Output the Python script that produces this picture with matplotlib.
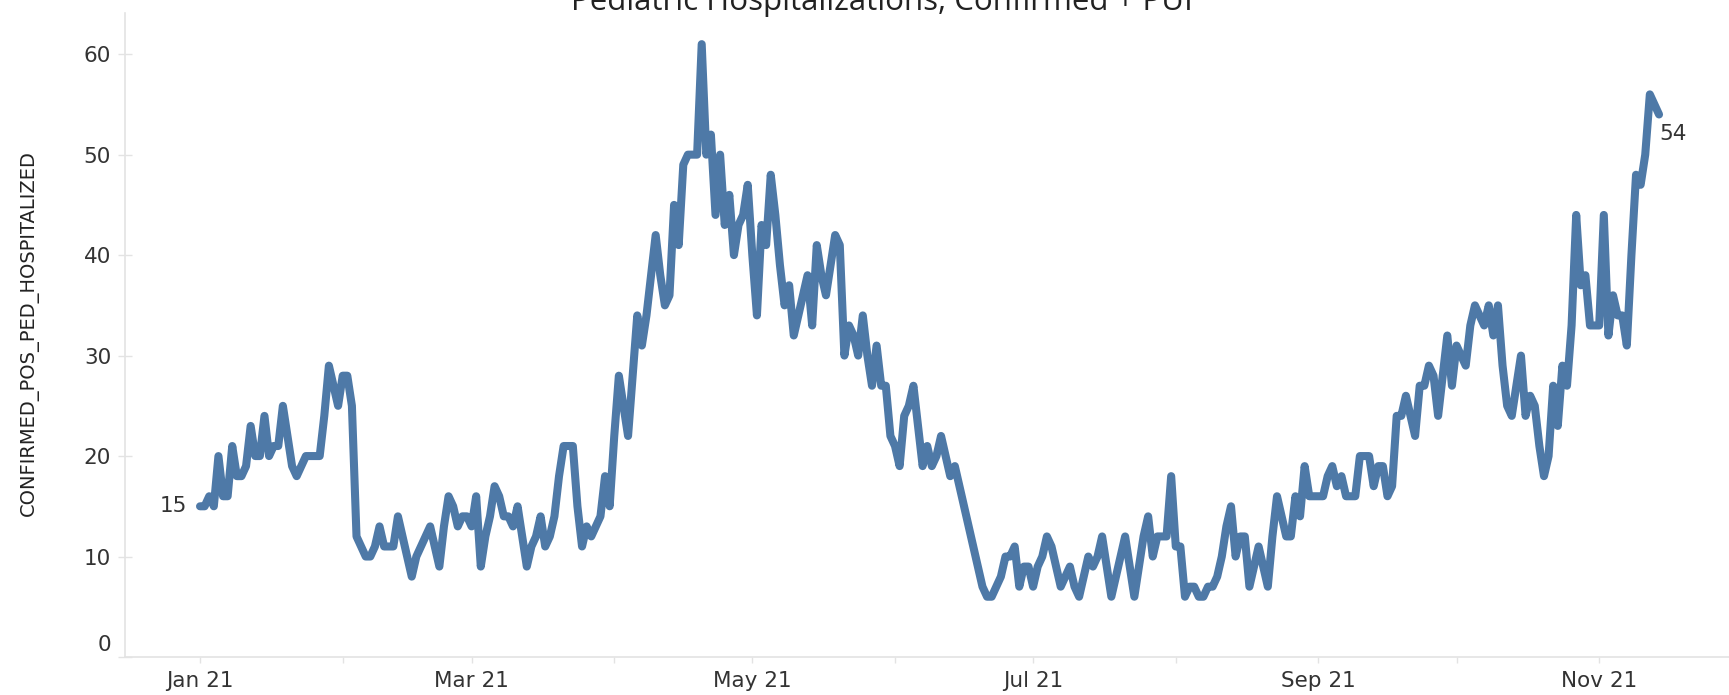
import numpy as np
import pandas as pd
import matplotlib
matplotlib.use('Agg')
import matplotlib.pyplot as plt
import matplotlib.dates as mdates
import matplotlib.transforms as mtransforms

# daily pediatric hospitalizations (Jan 1 2021 onward)
start_date = '2021-01-01'
ped_hosp = [
    15, 15, 16, 15, 20, 16, 16, 21, 18, 18, 19, 23, 20, 20, 24, 20, 21, 21, 25, 22,
    19, 18, 19, 20, 20, 20, 20, 24, 29, 27, 25, 28, 28, 25, 12, 11, 10, 10, 11, 13,
    11, 11, 11, 14, 12, 10, 8, 10, 11, 12, 13, 11, 9, 13, 16, 15, 13, 14, 14, 13,
    16, 9, 12, 14, 17, 16, 14, 14, 13, 15, 12, 9, 11, 12, 14, 11, 12, 14, 18, 21,
    21, 21, 15, 11, 13, 12, 13, 14, 18, 15, 22, 28, 25, 22, 28, 34, 31, 34, 38, 42,
    38, 35, 36, 45, 41, 49, 50, 50, 50, 61, 50, 52, 44, 50, 43, 46, 40, 43, 44, 47,
    40, 34, 43, 41, 48, 44, 39, 35, 37, 32, 34, 36, 38, 33, 41, 38, 36, 39, 42, 41,
    30, 33, 32, 30, 34, 30, 27, 31, 27, 27, 22, 21, 19, 24, 25, 27, 23, 19, 21, 19,
    20, 22, 20, 18, 19, 17, 15, 13, 11, 9, 7, 6, 6, 7, 8, 10, 10, 11, 7, 9,
    9, 7, 9, 10, 12, 11, 9, 7, 8, 9, 7, 6, 8, 10, 9, 10, 12, 9, 6, 8,
    10, 12, 9, 6, 9, 12, 14, 10, 12, 12, 12, 18, 11, 11, 6, 7, 7, 6, 6, 7,
    7, 8, 10, 13, 15, 10, 12, 12, 7, 9, 11, 9, 7, 12, 16, 14, 12, 12, 16, 14,
    19, 16, 16, 16, 16, 18, 19, 17, 18, 16, 16, 16, 20, 20, 20, 17, 19, 19, 16, 17,
    24, 24, 26, 24, 22, 27, 27, 29, 28, 24, 28, 32, 27, 31, 30, 29, 33, 35, 34, 33,
    35, 32, 35, 29, 25, 24, 27, 30, 24, 26, 25, 21, 18, 20, 27, 23, 29, 27, 33, 44,
    37, 38, 33, 33, 33, 44, 32, 36, 34, 34, 31, 40, 48, 47, 50, 56, 55, 54,
]
y_ticks = [0, 10, 20, 30, 40, 50, 60]

dates = pd.date_range(start_date, periods=len(ped_hosp), freq='D')

line_color = '#4e79a7'
text_color = '#333333'
axis_color = '#e3e3e3'

fig = plt.figure(figsize=(17.29, 6.95), dpi=100)
ax = fig.add_axes([125 / 1729, 1 - 657 / 695, 1 - 125 / 1729, (657 - 13) / 695])

ax.plot(dates, ped_hosp, color=line_color, linewidth=5.8,
        solid_joinstyle='round', solid_capstyle='round')

t0 = pd.Timestamp(start_date)
ax.set_xlim(t0 - pd.Timedelta(days=16.3), t0 + pd.Timedelta(days=332.2))
ax.set_ylim(0, 64.1)

# month ticks, label every second month
ax.xaxis.set_major_locator(mdates.MonthLocator())
ax.xaxis.set_major_formatter(plt.FuncFormatter(
    lambda x, pos: mdates.num2date(x).strftime('%b %y') if mdates.num2date(x).month % 2 == 1 else ''))
ax.set_yticks(y_ticks)

for side in ['top', 'right']:
    ax.spines[side].set_visible(False)
for side in ['left', 'bottom']:
    ax.spines[side].set_color(axis_color)
    ax.spines[side].set_linewidth(1.2)

ax.tick_params(axis='x', direction='out', length=4, width=1, color=axis_color,
               pad=6, labelsize=15.5, labelcolor=text_color)
ax.tick_params(axis='y', direction='inout', length=10, width=1, color=axis_color,
               pad=5, labelsize=15.5, labelcolor=text_color)

# tableau nudges the zero label up
lab0 = ax.yaxis.get_major_ticks()[0].label1
lab0.set_transform(lab0.get_transform() +
                   mtransforms.ScaledTranslation(0, 14 / 100, fig.dpi_scale_trans))

# first and last value labels
ax.annotate(str(ped_hosp[0]), (dates[0], ped_hosp[0]), xytext=(-9, 0),
            textcoords='offset points', ha='right', va='center',
            fontsize=15.5, color=text_color)
ax.annotate(str(ped_hosp[-1]), (dates[-1], ped_hosp[-1]), xytext=(0, -14),
            textcoords='offset points', ha='left', va='center',
            fontsize=15.5, color=text_color)

fig.text(29 / 1729, 1 - 333 / 695, 'CONFIRMED_POS_PED_HOSPITALIZED', rotation=90,
         ha='center', va='center', fontsize=14, color='#222222')

# title sits partly above the top edge, as in the source
fig.text(882 / 1729, 1 - 10 / 695, 'Pediatric Hospitalizations, Confirmed + PUI',
         ha='center', va='baseline', fontsize=22.5, color='#222222', family='Open Sans')

fig.savefig('out.png', dpi=100)
